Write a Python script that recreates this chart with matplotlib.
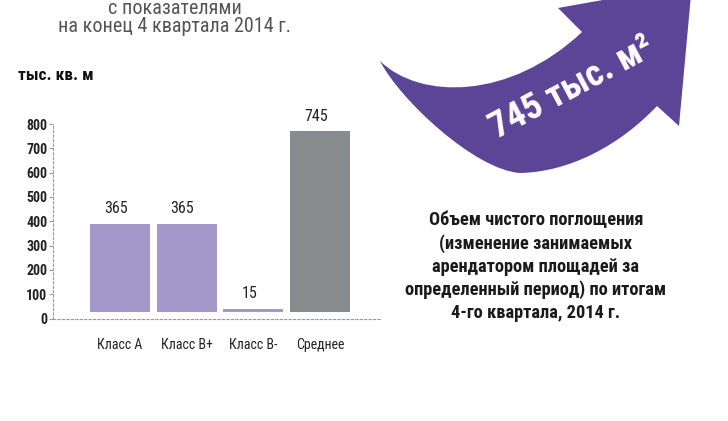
import matplotlib
matplotlib.use("Agg")
import matplotlib.pyplot as plt
from matplotlib import font_manager
from matplotlib.path import Path
from matplotlib.patches import PathPatch

# pick a narrow font if one is installed
names = {f.name for f in font_manager.fontManager.ttflist}
FONT = "DejaVu Sans"
for cand in ["Roboto Condensed", "Liberation Sans Narrow", "DejaVu Sans Condensed", "Roboto"]:
    if cand in names:
        FONT = cand
        break
plt.rcParams["font.family"] = [FONT, "DejaVu Sans"]

# data
categories = ["Класс А", "Класс В+", "Класс В-", "Среднее"]
values = [365, 365, 15, 745]
yticks = [0, 100, 200, 300, 400, 500, 600, 700, 800]
unit_label = "тыс. кв. м"
title_lines = ["с показателями", "на конец 4 квартала 2014 г."]
arrow_label = "745 тыс. м²"
note_lines = ["Объем чистого поглощения",
              "(изменение занимаемых",
              "арендатором площадей за",
              "определенный период) по итогам",
              "4-го квартала, 2014 г."]

bar_colors = ["#a497c9", "#a497c9", "#a497c9", "#898c8f"]
BASE = 25  # bars float a bit above the axis line

W, H = 728, 421
fig = plt.figure(figsize=(W / 100, H / 100), dpi=100)

# background layer in pixel coordinates
bg = fig.add_axes([0, 0, 1, 1])
bg.set_xlim(0, W)
bg.set_ylim(H, 0)
bg.axis("off")

# curved arrow
verts = [(380, 61),
         (420, 100), (510, 100), (582, 32),
         (558, 8),
         (692, -16),
         (679, 126),
         (657, 106),
         (620, 145), (570, 172), (520, 173),
         (475, 170), (400, 100), (380, 61),
         (380, 61)]
codes = [Path.MOVETO,
         Path.CURVE4, Path.CURVE4, Path.CURVE4,
         Path.LINETO, Path.LINETO, Path.LINETO, Path.LINETO,
         Path.CURVE4, Path.CURVE4, Path.CURVE4,
         Path.CURVE4, Path.CURVE4, Path.CURVE4,
         Path.CLOSEPOLY]
bg.add_patch(PathPatch(Path(verts, codes), facecolor="#5c4496", edgecolor="none"))
bg.text(572, 88, arrow_label, rotation=28, rotation_mode="anchor",
        ha="center", va="center", color="white", fontsize=26.5, fontweight="bold")

# titles
bg.text(175, 8, title_lines[0], ha="center", va="center", fontsize=14.5, color="#555555")
bg.text(175, 27, title_lines[1], ha="center", va="center", fontsize=14.5, color="#555555")
bg.text(18, 75, unit_label, ha="left", va="center", fontsize=12.5, fontweight="bold", color="#111111")

for i, line in enumerate(note_lines):
    bg.text(536, 220 + i * 23.3, line, ha="center", va="center",
            fontsize=13.2, fontweight="bold", color="#1a1a1a")

# bar chart
ax = fig.add_axes([53 / W, 1 - 318.5 / H, (380 - 53) / W, (318.5 - 124) / H])
x = range(len(categories))
ax.bar(x, values, bottom=BASE, width=0.9, color=bar_colors)
for xi, v in zip(x, values):
    ax.annotate(str(v), (xi, v + BASE), xytext=(-3, 11), textcoords="offset points",
                ha="center", va="center", fontsize=11.5, color="#222222")

ax.set_xlim(-1.005, 3.9)
ax.set_ylim(0, 800)
ax.set_yticks(yticks)
ax.set_xticks(list(x))
ax.set_xticklabels(categories)
ax.tick_params(axis="x", length=0, pad=14, labelsize=10, labelcolor="#222222")
ax.tick_params(axis="y", length=3, width=0.8, color="#999999", pad=1,
               labelsize=10, labelcolor="#222222")
for lab in ax.get_yticklabels():
    lab.set_fontweight("bold")
for side in ["top", "right"]:
    ax.spines[side].set_visible(False)
for side in ["left", "bottom"]:
    ax.spines[side].set_linestyle((0, (2, 2)))
    ax.spines[side].set_color("#999999")
    ax.spines[side].set_linewidth(0.8)
ax.patch.set_alpha(0)

fig.savefig("out.png", dpi=100)
